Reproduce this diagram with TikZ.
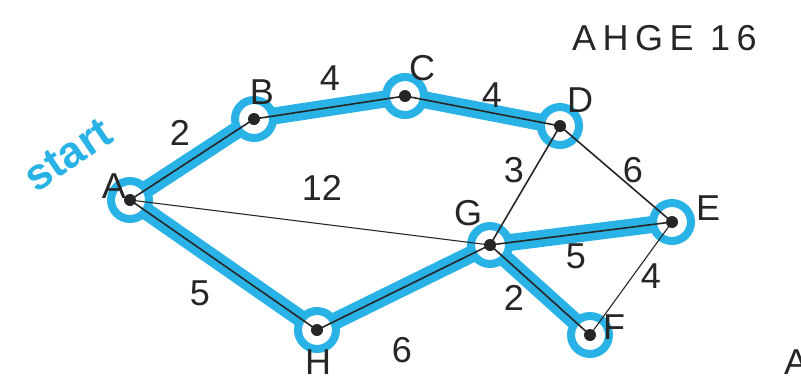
\documentclass[tikz,border=0pt]{standalone}
\usepackage{fontspec}
\setmainfont{Liberation Sans}
\definecolor{hl}{RGB}{40,178,230}
\begin{document}
\begin{tikzpicture}[x=1pt,y=-1pt,
  vert/.style={circle,fill=black!85,inner sep=0pt,minimum size=12pt},
  ring/.style={draw=hl,line width=8pt},
  hlpath/.style={draw=hl,line width=17pt,line cap=round},
  edge/.style={draw=black!85,line width=1.6pt},
  thinedge/.style={draw=black!85,line width=1.1pt},
  lbl/.style={font=\fontsize{36}{36}\selectfont,text=black!85,inner sep=0pt}]
\path[use as bounding box,fill=white] (0,0) rectangle (801,381);
% vertices
\node[vert] (A) at (130,200) {};
\node[vert] (B) at (254,119) {};
\node[vert] (C) at (405,96) {};
\node[vert] (D) at (560,126) {};
\node[vert] (E) at (672,222) {};
\node[vert] (G) at (490,245) {};
\node[vert] (F) at (590,335) {};
\node[vert] (H) at (317,330) {};
% highlighted route
\draw[hlpath] (A.center) -- (B.center) -- (C.center) -- (D.center);
\draw[hlpath] (A.center) -- (H.center) -- (G.center) -- (E.center);
\draw[hlpath] (G.center) -- (F.center);
\foreach \v in {A,B,C,D,E,G,F,H} \draw[ring,fill=white] (\v) circle (19);
% edges
\draw[edge] (A.center) -- (B.center);
\draw[edge] (B.center) -- (C.center);
\draw[edge] (C.center) -- (D.center);
\draw[edge] (D.center) -- (G.center);
\draw[edge] (D.center) -- (E.center);
\draw[thinedge] (A.center) -- (G.center);
\draw[edge] (G.center) -- (E.center);
\draw[thinedge] (E.center) -- (F.center);
\draw[edge] (G.center) -- (F.center);
\draw[edge] (A.center) -- (H.center);
\draw[edge] (H.center) -- (G.center);
\foreach \v in {A,B,C,D,E,G,F,H} \node[vert] at (\v) {};
% vertex labels
\node[lbl] (lA) at (114,186) {A};
\node[lbl] (lB) at (262,92) {B};
\node[lbl] (lC) at (422,68) {C};
\node[lbl] (lD) at (580,100) {D};
\node[lbl] (lE) at (708,208) {E};
\node[lbl] (lG) at (468,213) {G};
\node[lbl] (lF) at (614,327) {F};
\node[lbl] (lH) at (318,362) {H};
% weights
\node[lbl] (w1) at (180,133) {2};
\node[lbl] (w2) at (330,78) {4};
\node[lbl] (w3) at (492,95) {4};
\node[lbl] (w4) at (514,170) {3};
\node[lbl] (w5) at (633,170) {6};
\node[lbl] (w6) at (322,188) {12};
\node[lbl] (w7) at (576,256) {5};
\node[lbl] (w8) at (651,276) {4};
\node[lbl] (w9) at (514,298) {2};
\node[lbl] (w10) at (402,350) {6};
\node[lbl] (w11) at (200,293) {5};
% notes
\node[lbl,anchor=west,font=\fontsize{36}{36}\selectfont\addfontfeature{LetterSpace=18}] (res) at (572,38) {AHGE 16};
\node[font=\fontsize{44}{44}\selectfont\bfseries,text=hl,rotate=34,inner sep=0pt] (st) at (68,155) {start};
\node[lbl,anchor=west] (cut) at (784,362) {A};
\end{tikzpicture}
\end{document}
